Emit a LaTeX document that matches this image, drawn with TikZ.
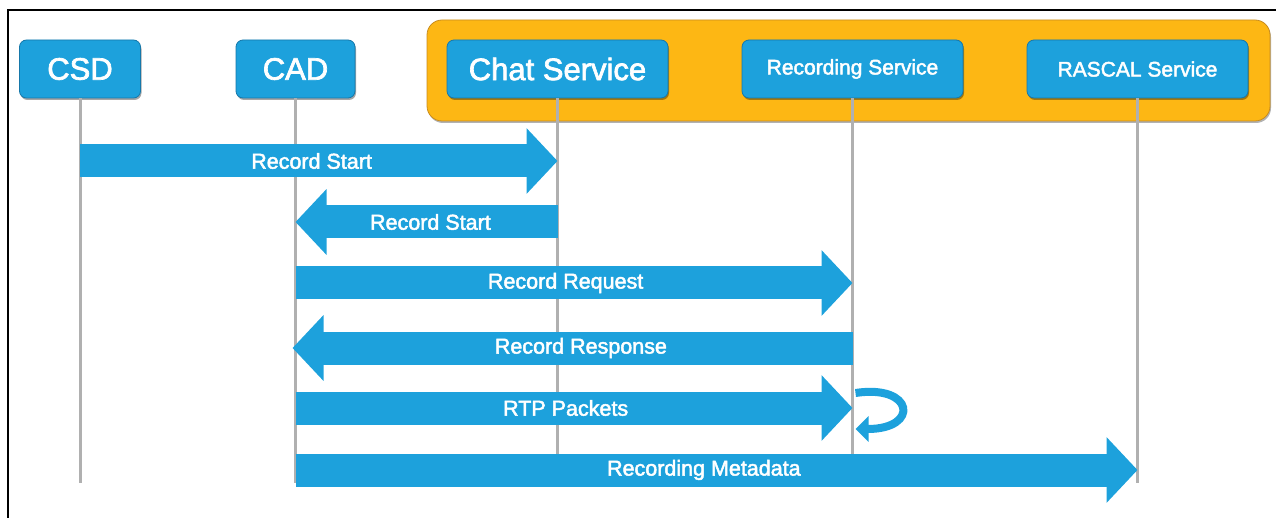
\documentclass[tikz,border=0pt]{standalone}
\usepackage{fontspec}
\setmainfont{Liberation Sans}
\newfontfamily\heavysans{Liberation Sans}[RawFeature={embolden=2.2}]
\usetikzlibrary{arrows.meta,shadows}

\definecolor{msgblue}{RGB}{29,161,220}
\definecolor{boxedge}{RGB}{22,120,170}
\definecolor{groupfill}{RGB}{253,183,20}
\definecolor{groupedge}{RGB}{200,140,30}
\definecolor{lifegray}{RGB}{176,176,176}

\tikzset{
  actor/.style={draw=boxedge, line width=0.8pt, fill=msgblue, rounded corners=7pt,
    minimum height=58pt, text=white, inner sep=0pt,
    drop shadow={shadow xshift=1pt, shadow yshift=-2pt, fill=black, opacity=0.35}},
  bigactor/.style={actor, font=\heavysans\fontsize{31}{31}\selectfont},
  smallactor/.style={actor, font=\heavysans\fontsize{21}{21}\selectfont, minimum width=221pt},
  lifeline/.style={draw=lifegray, line width=3pt},
  msg/.style={draw=msgblue, line width=33pt,
    -{Triangle[length=31pt, width=64pt, fill=msgblue, color=msgblue]}},
  msglabel/.style={text=white, font=\heavysans\fontsize{21.5}{21.5}\selectfont, pos=0.485, inner sep=0pt},
  selfloop/.style={draw=msgblue, line width=8pt,
    -{Triangle[length=13pt, width=25pt, fill=msgblue, color=msgblue]}}
}

\begin{document}
\begin{tikzpicture}[x=1pt, y=-1pt]
  \useasboundingbox (0,0) rectangle (1276,518);

  % frame edges
  \draw[line width=2pt, black] (1276,10) -- (8,10) -- (8,518);

  % service group background
  \node[draw=groupedge, line width=0.8pt, fill=groupfill, rounded corners=15pt,
        minimum width=843pt, minimum height=101pt, inner sep=0pt,
        drop shadow={shadow xshift=1pt, shadow yshift=-2pt, fill=black, opacity=0.3}]
        (group) at (848.5,70.5) {};

  % participants
  \node[bigactor, minimum width=121pt] (csd) at (80,69) {CSD};
  \node[bigactor, minimum width=119pt] (cad) at (295.5,69) {CAD};
  \node[bigactor, minimum width=221pt] (chat) at (557.5,69) {Chat Service};
  \node[smallactor] (rec) at (852.5,69) {Recording Service};
  \node[smallactor] (rascal) at (1137.5,69) {RASCAL Service};

  % lifelines
  \foreach \p in {csd,cad,chat,rec,rascal}
    \draw[lifeline] (\p.south) -- (\p |- 0,483);

  % message end points on the lifelines
  \coordinate (m1s) at (csd |- 0,161);
  \coordinate (m1e) at (chat |- 0,161);
  \coordinate (m2s) at (chat |- 0,222);
  \coordinate (m2e) at (cad |- 0,222);
  \coordinate (m3s) at (cad |- 0,283);
  \coordinate (m3e) at (rec |- 0,283);
  \coordinate (m4s) at (rec |- 0,348);
  \coordinate (m4e) at ([xshift=-3pt]cad |- 0,348);
  \coordinate (m5s) at (cad |- 0,408);
  \coordinate (m5e) at (rec |- 0,408);
  \coordinate (m6s) at (cad |- 0,470);
  \coordinate (m6e) at (rascal |- 0,470);

  % messages
  \draw[msg] (m1s) -- node[msglabel] {Record Start} (m1e);
  \draw[msg] (m2s) -- node[msglabel] {Record Start} (m2e);
  \draw[msg] (m3s) -- node[msglabel] {Record Request} (m3e);
  \draw[msg] (m4s) -- node[msglabel] {Record Response} (m4e);
  \draw[msg] (m5s) -- node[msglabel] {RTP Packets} (m5e);
  \draw[msg] (m6s) -- node[msglabel] {Recording Metadata} (m6e);

  % recording service loops back on itself
  \coordinate (loopA) at ([xshift=3pt]rec |- 0,393);
  \coordinate (loopB) at ([xshift=3pt]rec |- 0,429);
  \draw[selfloop] (loopA) .. controls (914,384) and (920,429) .. (loopB);
\end{tikzpicture}
\end{document}
